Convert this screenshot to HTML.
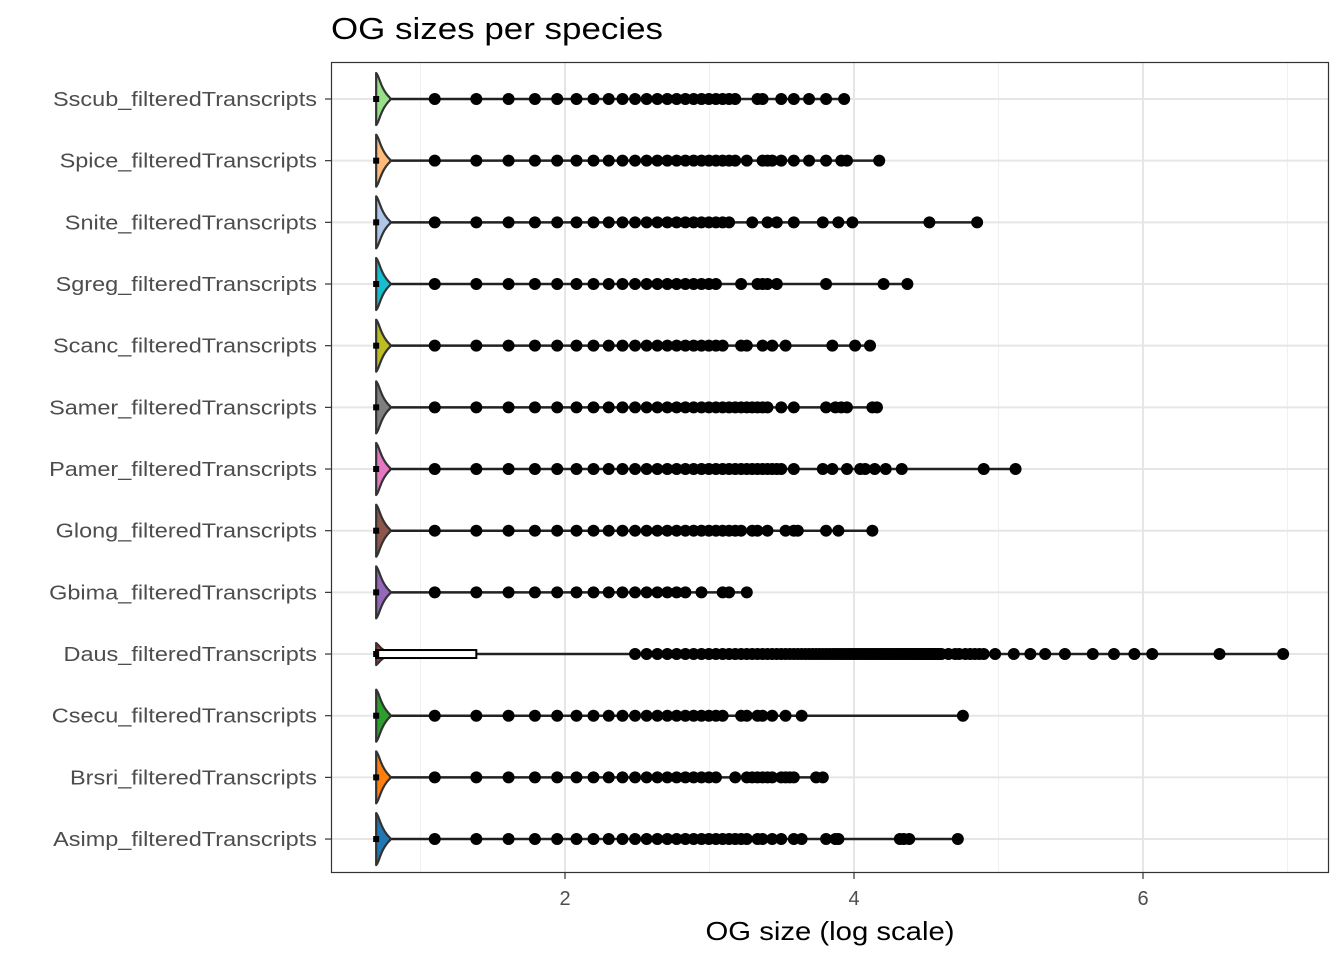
<!DOCTYPE html>
<html><head><meta charset="utf-8"><style>
body{margin:0;background:#fff;font-family:"Liberation Sans",Arial,sans-serif}
</style></head><body>
<svg id="chart" width="1344" height="960" xmlns="http://www.w3.org/2000/svg" font-family="Liberation Sans, Arial, sans-serif">
<text x="331" y="39" font-size="31" fill="#000" textLength="332" lengthAdjust="spacingAndGlyphs">OG sizes per species</text>
<g id="grid"></g><g id="marks"></g><g id="axes"></g>
<rect x="331.5" y="62.5" width="997" height="810" fill="none" stroke="#333" stroke-width="1.2"/>
<text x="830" y="940" font-size="26" text-anchor="middle" fill="#000" textLength="249" lengthAdjust="spacingAndGlyphs">OG size (log scale)</text>
</svg>
<script>
const species=["Sscub","Spice","Snite","Sgreg","Scanc","Samer","Pamer","Glong","Gbima","Daus","Csecu","Brsri","Asimp"];
const colors=["#98df8a","#ffbb78","#aec7e8","#17becf","#bcbd22","#7f7f7f","#e377c2","#8c564b","#9467bd","#d62728","#2ca02c","#ff7f0e","#1f77b4"];
const contiguousMax=[24,24,23,21,22,30,33,25,14,100,22,21,26];
const extraSizes=[
[28,29,33,36,40,45,51],
[26,29,30,31,33,36,40,45,50,52,65],
[27,30,32,36,44,49,54,92,128],
[25,28,29,30,32,45,67,79],
[25,26,29,31,34,47,55,61],
[33,36,45,48,50,52,62,64],
[36,44,47,52,57,59,63,68,76,134,167],
[27,28,30,34,36,37,45,49,62],
[15,16,17,19,22,23,26],
[105,110,113,118,122,126,130,134,145,165,185,205,235,285,330,380,430,685,1064],
[25,26,28,29,31,34,38,116],
[24,26,27,28,29,30,31,33,34,35,36,42,44],
[28,29,31,33,36,38,45,48,49,75,77,80,112]];
const xTicks=[2,4,6];
const xMinor=[1,3,5,7];
const NS="http://www.w3.org/2000/svg";
const X=v=>276+144.5*v;
const Y=i=>99+i*61.67;
function mk(tag,attrs,parent){const e=document.createElementNS(NS,tag);for(const k in attrs)e.setAttribute(k,attrs[k]);parent.appendChild(e);return e;}
const grid=document.getElementById('grid'),marks=document.getElementById('marks'),axes=document.getElementById('axes');
xMinor.forEach(v=>{const l=mk('line',{x1:X(v),x2:X(v),y1:62,y2:873,stroke:'#f0f0f0','stroke-width':1.2},grid);

});
xTicks.forEach(v=>{const l=mk('line',{x1:X(v),x2:X(v),y1:62,y2:873,stroke:'#e6e6e6','stroke-width':2},grid);


const t=mk('line',{x1:X(v),x2:X(v),y1:873,y2:879,stroke:'#333','stroke-width':1.2},axes);


const tx=mk('text',{x:X(v),y:905,'font-size':20,'text-anchor':'middle',fill:'#4d4d4d'},axes);tx.textContent=v;

});
species.forEach((s,i)=>{const y=Y(i);
const g=mk('line',{x1:331,x2:1329,y1:y,y2:y,stroke:'#e6e6e6','stroke-width':2},grid);


const t=mk('line',{x1:325,x2:331,y1:y,y2:y,stroke:'#333','stroke-width':1.2},axes);


const lb=mk('text',{x:317,y:y+7,'font-size':20.5,'text-anchor':'end',fill:'#4d4d4d'},axes);lb.textContent=s+"_filteredTranscripts";


const w=lb.getComputedTextLength();
lb.setAttribute('textLength',(w*1.145).toFixed(1));
lb.setAttribute('lengthAdjust','spacingAndGlyphs');
const sizes=[];const start=(s==="Daus")?12:3;
for(let n=start;n<=contiguousMax[i];n++)sizes.push(n);
extraSizes[i].forEach(n=>sizes.push(n));
const maxV=Math.log(Math.max(...sizes));
const g2=mk('g',{},marks);


const x0=X(Math.log(2));
const wl=mk('line',{x1:x0,x2:X(maxV),y1:y,y2:y,stroke:'#222','stroke-width':2.5},g2);


const h=(s==="Daus")?11:26;
const vp=mk('path',{d:`M${x0},${y-h} C${x0+3},${y-h+2} ${x0+4},${y-h*0.4} ${x0+14},${y-1} L${x0+14},${y+1} C${x0+4},${y+h*0.4} ${x0+3},${y+h-2} ${x0},${y+h} Z`,fill:colors[i],stroke:'#333','stroke-width':2.2,'stroke-linejoin':'round'},g2);


if(s==="Daus"){const b=mk('rect',{x:x0,y:y-4,width:X(Math.log(4))-x0,height:8,fill:'#fff',stroke:'#000','stroke-width':2},g2);

}
const md=mk('rect',{x:x0-3,y:y-3,width:6,height:6,fill:'#000'},g2);


sizes.forEach(n=>{const c=mk('circle',{cx:X(Math.log(n)),cy:y,r:6,fill:'#000'},g2);

});
});
</script>
</body></html>
